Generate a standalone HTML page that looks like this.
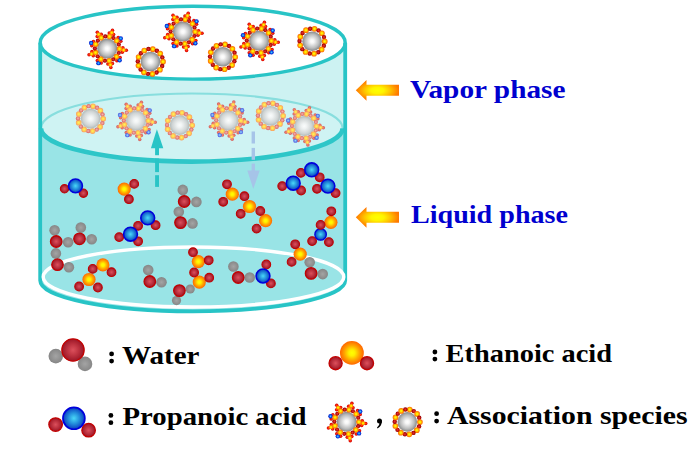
<!DOCTYPE html>
<html><head><meta charset="utf-8"><style>
html,body{margin:0;padding:0;background:#fff;}
body{width:699px;height:453px;overflow:hidden;font-family:"Liberation Serif",serif;}
svg{display:block;}
</style></head><body>
<svg width="699" height="453" viewBox="0 0 699 453"><defs><radialGradient id="gGray" cx="50%" cy="50%" r="50%"><stop offset="0" stop-color="#ffffff"/><stop offset="0.2" stop-color="#f6f6f6"/><stop offset="0.7" stop-color="#bbbcbc"/><stop offset="1" stop-color="#858888"/></radialGradient><radialGradient id="gO" cx="50%" cy="50%" r="50%"><stop offset="0" stop-color="#ffff00"/><stop offset="0.25" stop-color="#fff000"/><stop offset="0.62" stop-color="#ffa600"/><stop offset="1" stop-color="#ff6600"/></radialGradient><radialGradient id="gR" cx="50%" cy="50%" r="50%"><stop offset="0" stop-color="#dc505c"/><stop offset="0.55" stop-color="#bb303e"/><stop offset="0.9" stop-color="#a21c2c"/><stop offset="1" stop-color="#a21c2c"/></radialGradient><radialGradient id="gRs" cx="50%" cy="50%" r="50%"><stop offset="0" stop-color="#e83838"/><stop offset="0.55" stop-color="#c01010"/><stop offset="1" stop-color="#8c0000"/></radialGradient><radialGradient id="gRr" cx="50%" cy="50%" r="50%"><stop offset="0" stop-color="#ff4020"/><stop offset="0.6" stop-color="#f01000"/><stop offset="1" stop-color="#c00000"/></radialGradient><radialGradient id="gRrF" cx="50%" cy="50%" r="50%"><stop offset="0" stop-color="#ed8875"/><stop offset="0.6" stop-color="#e46c62"/><stop offset="1" stop-color="#c86262"/></radialGradient><radialGradient id="gB" cx="50%" cy="50%" r="50%"><stop offset="0" stop-color="#4ad8f8"/><stop offset="0.5" stop-color="#2490dc"/><stop offset="0.88" stop-color="#1050c8"/><stop offset="1" stop-color="#0c40c0"/></radialGradient><radialGradient id="gBs" cx="50%" cy="50%" r="50%"><stop offset="0" stop-color="#50e0ff"/><stop offset="0.45" stop-color="#1070f0"/><stop offset="1" stop-color="#0010c8"/></radialGradient><radialGradient id="gW" cx="50%" cy="50%" r="50%"><stop offset="0" stop-color="#a4a4a4"/><stop offset="1" stop-color="#868686"/></radialGradient><radialGradient id="gArr" cx="50%" cy="50%" r="50%"><stop offset="0" stop-color="#ffff00"/><stop offset="0.3" stop-color="#fff400"/><stop offset="0.6" stop-color="#ffc400"/><stop offset="0.85" stop-color="#ff9400"/><stop offset="1" stop-color="#ff7800"/></radialGradient><radialGradient id="gOF" cx="50%" cy="50%" r="50%"><stop offset="0" stop-color="#fff060"/><stop offset="0.35" stop-color="#ffe050"/><stop offset="0.7" stop-color="#ffbc5a"/><stop offset="1" stop-color="#f8a060"/></radialGradient><radialGradient id="gRsF" cx="50%" cy="50%" r="50%"><stop offset="0" stop-color="#f4b4ac"/><stop offset="0.5" stop-color="#e88c88"/><stop offset="1" stop-color="#d86464"/></radialGradient><radialGradient id="gBsF" cx="50%" cy="50%" r="50%"><stop offset="0" stop-color="#98ecf8"/><stop offset="0.5" stop-color="#6a90f0"/><stop offset="1" stop-color="#4a58e0"/></radialGradient><radialGradient id="gGrayF" cx="50%" cy="50%" r="50%"><stop offset="0" stop-color="#fafcfc"/><stop offset="0.25" stop-color="#f0f3f3"/><stop offset="0.75" stop-color="#cfd4d4"/><stop offset="1" stop-color="#b2baba"/></radialGradient>
<symbol id="ring" overflow="visible"><circle r="9.8" fill="url(#gGray)"/><circle cx="2.40" cy="-12.37" r="2.85" fill="url(#gO)"/><circle cx="6.49" cy="-10.80" r="2.2" fill="url(#gRs)"/><circle cx="9.79" cy="-7.93" r="2.85" fill="url(#gO)"/><circle cx="11.91" cy="-4.10" r="2.2" fill="url(#gRs)"/><circle cx="12.60" cy="0.22" r="2.85" fill="url(#gO)"/><circle cx="11.76" cy="4.52" r="2.2" fill="url(#gRs)"/><circle cx="9.51" cy="8.27" r="2.85" fill="url(#gO)"/><circle cx="6.11" cy="11.02" r="2.2" fill="url(#gRs)"/><circle cx="1.97" cy="12.44" r="2.85" fill="url(#gO)"/><circle cx="-2.40" cy="12.37" r="2.2" fill="url(#gRs)"/><circle cx="-6.49" cy="10.80" r="2.85" fill="url(#gO)"/><circle cx="-9.79" cy="7.93" r="2.2" fill="url(#gRs)"/><circle cx="-11.91" cy="4.10" r="2.85" fill="url(#gO)"/><circle cx="-12.60" cy="-0.22" r="2.2" fill="url(#gRs)"/><circle cx="-11.76" cy="-4.52" r="2.85" fill="url(#gO)"/><circle cx="-9.51" cy="-8.27" r="2.2" fill="url(#gRs)"/><circle cx="-6.11" cy="-11.02" r="2.85" fill="url(#gO)"/><circle cx="-1.97" cy="-12.44" r="2.2" fill="url(#gRs)"/></symbol>
<symbol id="star" overflow="visible"><circle cx="2.05" cy="-15.57" r="1.75" fill="url(#gRr)"/><circle cx="6.43" cy="-14.10" r="1.75" fill="url(#gRr)"/><circle cx="5.29" cy="-18.46" r="1.75" fill="url(#gRr)"/><circle cx="4.55" cy="-15.86" r="2.15" fill="url(#gO)"/><circle cx="11.00" cy="-11.20" r="1.75" fill="url(#gRr)"/><circle cx="13.62" cy="-7.40" r="1.75" fill="url(#gRr)"/><circle cx="13.58" cy="-10.23" r="2.2" fill="url(#gBs)"/><circle cx="15.67" cy="-0.96" r="1.75" fill="url(#gRr)"/><circle cx="15.07" cy="3.62" r="1.75" fill="url(#gRr)"/><circle cx="19.13" cy="1.67" r="1.75" fill="url(#gRr)"/><circle cx="16.44" cy="1.44" r="2.15" fill="url(#gO)"/><circle cx="12.94" cy="8.89" r="1.75" fill="url(#gRr)"/><circle cx="9.65" cy="12.13" r="1.75" fill="url(#gRr)"/><circle cx="12.43" cy="11.59" r="2.2" fill="url(#gBs)"/><circle cx="5.24" cy="14.80" r="1.75" fill="url(#gRr)"/><circle cx="0.68" cy="15.49" r="1.75" fill="url(#gRr)"/><circle cx="3.66" cy="18.85" r="1.75" fill="url(#gRr)"/><circle cx="3.15" cy="16.20" r="2.15" fill="url(#gO)"/><circle cx="-6.01" cy="14.50" r="1.75" fill="url(#gRr)"/><circle cx="-9.86" cy="11.96" r="1.75" fill="url(#gRr)"/><circle cx="-8.76" cy="14.57" r="2.2" fill="url(#gBs)"/><circle cx="-13.93" cy="7.25" r="1.75" fill="url(#gRr)"/><circle cx="-15.24" cy="2.82" r="1.75" fill="url(#gRr)"/><circle cx="-18.15" cy="6.25" r="1.75" fill="url(#gRr)"/><circle cx="-15.60" cy="5.37" r="2.15" fill="url(#gO)"/><circle cx="-15.44" cy="-2.86" r="1.75" fill="url(#gRr)"/><circle cx="-13.75" cy="-7.16" r="1.75" fill="url(#gRr)"/><circle cx="-16.07" cy="-5.53" r="2.2" fill="url(#gBs)"/><circle cx="-9.99" cy="-12.11" r="1.75" fill="url(#gRr)"/><circle cx="-5.93" cy="-14.32" r="1.75" fill="url(#gRr)"/><circle cx="-9.89" cy="-16.46" r="1.75" fill="url(#gRr)"/><circle cx="-8.50" cy="-14.14" r="2.15" fill="url(#gO)"/><circle r="10" fill="url(#gGray)"/><circle cx="2.35" cy="-12.07" r="2.8" fill="url(#gO)"/><circle cx="6.33" cy="-10.54" r="2.1" fill="url(#gRs)"/><circle cx="9.56" cy="-7.74" r="2.8" fill="url(#gO)"/><circle cx="11.63" cy="-4.00" r="2.1" fill="url(#gRs)"/><circle cx="12.30" cy="0.21" r="2.8" fill="url(#gO)"/><circle cx="11.48" cy="4.41" r="2.1" fill="url(#gRs)"/><circle cx="9.28" cy="8.07" r="2.8" fill="url(#gO)"/><circle cx="5.96" cy="10.76" r="2.1" fill="url(#gRs)"/><circle cx="1.92" cy="12.15" r="2.8" fill="url(#gO)"/><circle cx="-2.35" cy="12.07" r="2.1" fill="url(#gRs)"/><circle cx="-6.33" cy="10.54" r="2.8" fill="url(#gO)"/><circle cx="-9.56" cy="7.74" r="2.1" fill="url(#gRs)"/><circle cx="-11.63" cy="4.00" r="2.8" fill="url(#gO)"/><circle cx="-12.30" cy="-0.21" r="2.1" fill="url(#gRs)"/><circle cx="-11.48" cy="-4.41" r="2.8" fill="url(#gO)"/><circle cx="-9.28" cy="-8.07" r="2.1" fill="url(#gRs)"/><circle cx="-5.96" cy="-10.76" r="2.8" fill="url(#gO)"/><circle cx="-1.92" cy="-12.15" r="2.1" fill="url(#gRs)"/></symbol>
<symbol id="ringF" overflow="visible"><circle r="9.8" fill="url(#gGrayF)"/><circle cx="2.40" cy="-12.37" r="2.85" fill="url(#gOF)"/><circle cx="6.49" cy="-10.80" r="2.2" fill="url(#gRsF)"/><circle cx="9.79" cy="-7.93" r="2.85" fill="url(#gOF)"/><circle cx="11.91" cy="-4.10" r="2.2" fill="url(#gRsF)"/><circle cx="12.60" cy="0.22" r="2.85" fill="url(#gOF)"/><circle cx="11.76" cy="4.52" r="2.2" fill="url(#gRsF)"/><circle cx="9.51" cy="8.27" r="2.85" fill="url(#gOF)"/><circle cx="6.11" cy="11.02" r="2.2" fill="url(#gRsF)"/><circle cx="1.97" cy="12.44" r="2.85" fill="url(#gOF)"/><circle cx="-2.40" cy="12.37" r="2.2" fill="url(#gRsF)"/><circle cx="-6.49" cy="10.80" r="2.85" fill="url(#gOF)"/><circle cx="-9.79" cy="7.93" r="2.2" fill="url(#gRsF)"/><circle cx="-11.91" cy="4.10" r="2.85" fill="url(#gOF)"/><circle cx="-12.60" cy="-0.22" r="2.2" fill="url(#gRsF)"/><circle cx="-11.76" cy="-4.52" r="2.85" fill="url(#gOF)"/><circle cx="-9.51" cy="-8.27" r="2.2" fill="url(#gRsF)"/><circle cx="-6.11" cy="-11.02" r="2.85" fill="url(#gOF)"/><circle cx="-1.97" cy="-12.44" r="2.2" fill="url(#gRsF)"/></symbol>
<symbol id="starF" overflow="visible"><circle cx="2.05" cy="-15.57" r="1.75" fill="url(#gRrF)"/><circle cx="6.43" cy="-14.10" r="1.75" fill="url(#gRrF)"/><circle cx="5.29" cy="-18.46" r="1.75" fill="url(#gRrF)"/><circle cx="4.55" cy="-15.86" r="2.15" fill="url(#gOF)"/><circle cx="11.00" cy="-11.20" r="1.75" fill="url(#gRrF)"/><circle cx="13.62" cy="-7.40" r="1.75" fill="url(#gRrF)"/><circle cx="13.58" cy="-10.23" r="2.2" fill="url(#gBsF)"/><circle cx="15.67" cy="-0.96" r="1.75" fill="url(#gRrF)"/><circle cx="15.07" cy="3.62" r="1.75" fill="url(#gRrF)"/><circle cx="19.13" cy="1.67" r="1.75" fill="url(#gRrF)"/><circle cx="16.44" cy="1.44" r="2.15" fill="url(#gOF)"/><circle cx="12.94" cy="8.89" r="1.75" fill="url(#gRrF)"/><circle cx="9.65" cy="12.13" r="1.75" fill="url(#gRrF)"/><circle cx="12.43" cy="11.59" r="2.2" fill="url(#gBsF)"/><circle cx="5.24" cy="14.80" r="1.75" fill="url(#gRrF)"/><circle cx="0.68" cy="15.49" r="1.75" fill="url(#gRrF)"/><circle cx="3.66" cy="18.85" r="1.75" fill="url(#gRrF)"/><circle cx="3.15" cy="16.20" r="2.15" fill="url(#gOF)"/><circle cx="-6.01" cy="14.50" r="1.75" fill="url(#gRrF)"/><circle cx="-9.86" cy="11.96" r="1.75" fill="url(#gRrF)"/><circle cx="-8.76" cy="14.57" r="2.2" fill="url(#gBsF)"/><circle cx="-13.93" cy="7.25" r="1.75" fill="url(#gRrF)"/><circle cx="-15.24" cy="2.82" r="1.75" fill="url(#gRrF)"/><circle cx="-18.15" cy="6.25" r="1.75" fill="url(#gRrF)"/><circle cx="-15.60" cy="5.37" r="2.15" fill="url(#gOF)"/><circle cx="-15.44" cy="-2.86" r="1.75" fill="url(#gRrF)"/><circle cx="-13.75" cy="-7.16" r="1.75" fill="url(#gRrF)"/><circle cx="-16.07" cy="-5.53" r="2.2" fill="url(#gBsF)"/><circle cx="-9.99" cy="-12.11" r="1.75" fill="url(#gRrF)"/><circle cx="-5.93" cy="-14.32" r="1.75" fill="url(#gRrF)"/><circle cx="-9.89" cy="-16.46" r="1.75" fill="url(#gRrF)"/><circle cx="-8.50" cy="-14.14" r="2.15" fill="url(#gOF)"/><circle r="10" fill="url(#gGrayF)"/><circle cx="2.35" cy="-12.07" r="2.8" fill="url(#gOF)"/><circle cx="6.33" cy="-10.54" r="2.1" fill="url(#gRsF)"/><circle cx="9.56" cy="-7.74" r="2.8" fill="url(#gOF)"/><circle cx="11.63" cy="-4.00" r="2.1" fill="url(#gRsF)"/><circle cx="12.30" cy="0.21" r="2.8" fill="url(#gOF)"/><circle cx="11.48" cy="4.41" r="2.1" fill="url(#gRsF)"/><circle cx="9.28" cy="8.07" r="2.8" fill="url(#gOF)"/><circle cx="5.96" cy="10.76" r="2.1" fill="url(#gRsF)"/><circle cx="1.92" cy="12.15" r="2.8" fill="url(#gOF)"/><circle cx="-2.35" cy="12.07" r="2.1" fill="url(#gRsF)"/><circle cx="-6.33" cy="10.54" r="2.8" fill="url(#gOF)"/><circle cx="-9.56" cy="7.74" r="2.1" fill="url(#gRsF)"/><circle cx="-11.63" cy="4.00" r="2.8" fill="url(#gOF)"/><circle cx="-12.30" cy="-0.21" r="2.1" fill="url(#gRsF)"/><circle cx="-11.48" cy="-4.41" r="2.8" fill="url(#gOF)"/><circle cx="-9.28" cy="-8.07" r="2.1" fill="url(#gRsF)"/><circle cx="-5.96" cy="-10.76" r="2.8" fill="url(#gOF)"/><circle cx="-1.92" cy="-12.15" r="2.1" fill="url(#gRsF)"/></symbol>
</defs><rect x="40.19999999999999" y="42.7" width="305.0" height="85.49999999999999" fill="#cdf2f2"/><path d="M40.19999999999999,128.2 L345.2,128.2 L345.2,280.5 A152.5,30.8 0 0 1 40.19999999999999,280.5 Z" fill="#99e4e6"/><path d="M41.0,128.2 A150.8,34.8 0 0 1 342.6,128.2 A150.8,33.4 0 0 1 41.0,128.2 Z" fill="#cff3f3"/><path d="M41.0,128.2 A150.8,34.8 0 0 1 342.6,128.2" fill="none" stroke="#88dede" stroke-width="2"/><path d="M41.0,128.2 A150.8,33.4 0 0 0 342.6,128.2" fill="none" stroke="#2ec6c8" stroke-width="4.6"/><ellipse cx="192.7" cy="42.7" rx="152.5" ry="36.4" fill="#ffffff" stroke="#28c4c6" stroke-width="3.4"/><path d="M40.19999999999999,42.7 L40.19999999999999,280.5 A152.5,30.8 0 0 0 345.2,280.5 L345.2,42.7" fill="none" stroke="#28c4c6" stroke-width="3.8"/><ellipse cx="193.5" cy="277" rx="150.3" ry="30" fill="none" stroke="#ffffff" stroke-width="3.4"/><use href="#ringF" x="90.6" y="118.6"/><use href="#starF" x="136.1" y="120.6"/><use href="#ringF" x="179.6" y="125.1"/><use href="#starF" x="228.5" y="120.5"/><use href="#ringF" x="270.5" y="115.7"/><use href="#starF" x="304.2" y="126.1"/><use href="#star" x="107.2" y="48.6"/><use href="#ring" x="150.4" y="61.5"/><use href="#star" x="182.9" y="31.6"/><use href="#ring" x="222.6" y="56.8"/><use href="#star" x="259.1" y="40.7"/><use href="#ring" x="312.1" y="41.2"/><path d="M150.9,148.2 L156.9,129.3 L163.3,148.2 Z" fill="#28c4c6"/><rect x="155.1" y="148" width="3.9" height="7.199999999999989" fill="#28c4c6"/><rect x="155.1" y="158.5" width="3.9" height="13.599999999999994" fill="#28c4c6"/><rect x="155.1" y="175.2" width="3.9" height="11.700000000000017" fill="#28c4c6"/><rect x="251.6" y="131.5" width="3.4" height="12.0" fill="#a6c4e8"/><rect x="251.6" y="147.9" width="3.4" height="11.900000000000006" fill="#a6c4e8"/><rect x="251.6" y="163.6" width="3.4" height="7.400000000000006" fill="#a6c4e8"/><path d="M247.3,170.6 L259.7,170.6 L253.3,189.1 Z" fill="#a6c4e8"/><circle cx="64.50" cy="188.80" r="4.15" fill="url(#gR)" stroke="#c20202" stroke-width="1.10"/><circle cx="83.40" cy="193.20" r="4.15" fill="url(#gR)" stroke="#c20202" stroke-width="1.10"/><circle cx="75.50" cy="185.90" r="6.93" fill="url(#gB)" stroke="#0000dc" stroke-width="1.54"/><circle cx="138.10" cy="225.80" r="4.35" fill="url(#gR)" stroke="#c20202" stroke-width="1.10"/><circle cx="155.60" cy="225.20" r="4.35" fill="url(#gR)" stroke="#c20202" stroke-width="1.10"/><circle cx="147.70" cy="217.90" r="6.93" fill="url(#gB)" stroke="#0000dc" stroke-width="1.54"/><circle cx="119.20" cy="237.10" r="4.35" fill="url(#gR)" stroke="#c20202" stroke-width="1.10"/><circle cx="138.10" cy="241.30" r="4.35" fill="url(#gR)" stroke="#c20202" stroke-width="1.10"/><circle cx="130.50" cy="234.20" r="6.93" fill="url(#gB)" stroke="#0000dc" stroke-width="1.54"/><circle cx="300.90" cy="172.90" r="4.35" fill="url(#gR)" stroke="#c20202" stroke-width="1.10"/><circle cx="319.70" cy="177.30" r="4.35" fill="url(#gR)" stroke="#c20202" stroke-width="1.10"/><circle cx="311.70" cy="169.80" r="6.93" fill="url(#gB)" stroke="#0000dc" stroke-width="1.54"/><circle cx="282.20" cy="186.10" r="4.35" fill="url(#gR)" stroke="#c20202" stroke-width="1.10"/><circle cx="301.10" cy="190.50" r="4.35" fill="url(#gR)" stroke="#c20202" stroke-width="1.10"/><circle cx="293.20" cy="183.20" r="6.93" fill="url(#gB)" stroke="#0000dc" stroke-width="1.54"/><circle cx="317.00" cy="188.80" r="4.35" fill="url(#gR)" stroke="#c20202" stroke-width="1.10"/><circle cx="335.60" cy="193.10" r="4.35" fill="url(#gR)" stroke="#c20202" stroke-width="1.10"/><circle cx="327.90" cy="186.10" r="6.93" fill="url(#gB)" stroke="#0000dc" stroke-width="1.54"/><circle cx="312.10" cy="241.10" r="4.35" fill="url(#gR)" stroke="#c20202" stroke-width="1.10"/><circle cx="328.90" cy="242.10" r="4.35" fill="url(#gR)" stroke="#c20202" stroke-width="1.10"/><circle cx="320.60" cy="234.40" r="5.76" fill="url(#gB)" stroke="#0000dc" stroke-width="1.28"/><circle cx="266.30" cy="264.50" r="4.35" fill="url(#gR)" stroke="#c20202" stroke-width="1.10"/><circle cx="270.90" cy="283.40" r="4.35" fill="url(#gR)" stroke="#c20202" stroke-width="1.10"/><circle cx="263.00" cy="276.00" r="6.93" fill="url(#gB)" stroke="#0000dc" stroke-width="1.54"/><circle cx="124.20" cy="189.10" r="6.60" fill="url(#gO)"/><circle cx="134.20" cy="183.90" r="4.35" fill="url(#gR)" stroke="#c20202" stroke-width="1.10"/><circle cx="128.90" cy="199.20" r="4.35" fill="url(#gR)" stroke="#c20202" stroke-width="1.10"/><circle cx="232.30" cy="194.20" r="6.60" fill="url(#gO)"/><circle cx="227.00" cy="184.30" r="4.35" fill="url(#gR)" stroke="#c20202" stroke-width="1.10"/><circle cx="223.20" cy="201.80" r="4.35" fill="url(#gR)" stroke="#c20202" stroke-width="1.10"/><circle cx="249.50" cy="206.50" r="6.60" fill="url(#gO)"/><circle cx="244.40" cy="196.20" r="4.35" fill="url(#gR)" stroke="#c20202" stroke-width="1.10"/><circle cx="240.70" cy="213.80" r="4.35" fill="url(#gR)" stroke="#c20202" stroke-width="1.10"/><circle cx="265.60" cy="220.70" r="6.60" fill="url(#gO)"/><circle cx="260.30" cy="211.00" r="4.35" fill="url(#gR)" stroke="#c20202" stroke-width="1.10"/><circle cx="256.60" cy="228.60" r="4.35" fill="url(#gR)" stroke="#c20202" stroke-width="1.10"/><circle cx="330.90" cy="222.30" r="6.60" fill="url(#gO)"/><circle cx="331.30" cy="211.30" r="4.35" fill="url(#gR)" stroke="#c20202" stroke-width="1.10"/><circle cx="320.60" cy="224.90" r="4.35" fill="url(#gR)" stroke="#c20202" stroke-width="1.10"/><circle cx="300.20" cy="254.20" r="6.60" fill="url(#gO)"/><circle cx="295.20" cy="244.30" r="4.35" fill="url(#gR)" stroke="#c20202" stroke-width="1.10"/><circle cx="291.60" cy="261.90" r="4.35" fill="url(#gR)" stroke="#c20202" stroke-width="1.10"/><circle cx="198.30" cy="261.60" r="6.60" fill="url(#gO)"/><circle cx="193.00" cy="252.20" r="4.35" fill="url(#gR)" stroke="#c20202" stroke-width="1.10"/><circle cx="208.70" cy="260.30" r="4.35" fill="url(#gR)" stroke="#c20202" stroke-width="1.10"/><circle cx="199.30" cy="282.10" r="6.60" fill="url(#gO)"/><circle cx="194.10" cy="272.50" r="4.35" fill="url(#gR)" stroke="#c20202" stroke-width="1.10"/><circle cx="209.20" cy="277.70" r="4.35" fill="url(#gR)" stroke="#c20202" stroke-width="1.10"/><circle cx="89.00" cy="279.50" r="6.60" fill="url(#gO)"/><circle cx="79.10" cy="286.50" r="4.35" fill="url(#gR)" stroke="#c20202" stroke-width="1.10"/><circle cx="97.90" cy="287.50" r="4.35" fill="url(#gR)" stroke="#c20202" stroke-width="1.10"/><circle cx="102.90" cy="264.90" r="6.60" fill="url(#gO)"/><circle cx="92.70" cy="268.90" r="4.35" fill="url(#gR)" stroke="#c20202" stroke-width="1.10"/><circle cx="111.50" cy="272.20" r="4.35" fill="url(#gR)" stroke="#c20202" stroke-width="1.10"/><circle cx="54.60" cy="230.20" r="5.30" fill="url(#gW)"/><circle cx="68.10" cy="242.20" r="5.30" fill="url(#gW)"/><circle cx="56.20" cy="241.50" r="5.76" fill="url(#gR)" stroke="#c20202" stroke-width="1.28"/><circle cx="80.80" cy="227.60" r="5.30" fill="url(#gW)"/><circle cx="91.70" cy="239.20" r="5.30" fill="url(#gW)"/><circle cx="79.50" cy="238.80" r="5.76" fill="url(#gR)" stroke="#c20202" stroke-width="1.28"/><circle cx="55.90" cy="253.40" r="5.30" fill="url(#gW)"/><circle cx="68.90" cy="267.30" r="5.30" fill="url(#gW)"/><circle cx="57.50" cy="264.70" r="5.76" fill="url(#gR)" stroke="#c20202" stroke-width="1.28"/><circle cx="182.80" cy="189.90" r="5.30" fill="url(#gW)"/><circle cx="196.40" cy="201.90" r="5.30" fill="url(#gW)"/><circle cx="184.20" cy="201.50" r="5.76" fill="url(#gR)" stroke="#c20202" stroke-width="1.28"/><circle cx="178.80" cy="211.80" r="5.30" fill="url(#gW)"/><circle cx="192.50" cy="223.40" r="5.30" fill="url(#gW)"/><circle cx="180.50" cy="222.60" r="5.76" fill="url(#gR)" stroke="#c20202" stroke-width="1.28"/><circle cx="309.70" cy="262.20" r="5.30" fill="url(#gW)"/><circle cx="322.70" cy="274.10" r="5.30" fill="url(#gW)"/><circle cx="311.10" cy="273.40" r="5.76" fill="url(#gR)" stroke="#c20202" stroke-width="1.28"/><circle cx="233.40" cy="266.50" r="5.30" fill="url(#gW)"/><circle cx="249.70" cy="277.50" r="5.30" fill="url(#gW)"/><circle cx="238.20" cy="277.50" r="5.76" fill="url(#gR)" stroke="#c20202" stroke-width="1.28"/><circle cx="148.20" cy="270.00" r="5.30" fill="url(#gW)"/><circle cx="161.50" cy="282.20" r="5.30" fill="url(#gW)"/><circle cx="149.80" cy="281.50" r="5.76" fill="url(#gR)" stroke="#c20202" stroke-width="1.28"/><circle cx="190.20" cy="289.00" r="4.60" fill="url(#gW)"/><circle cx="176.50" cy="300.60" r="4.60" fill="url(#gW)"/><circle cx="179.40" cy="290.60" r="5.76" fill="url(#gR)" stroke="#c20202" stroke-width="1.28"/><path d="M355.8,90.2 L366.5,80.0 L366.5,84.8 L399,84.8 L399,95.8 L366.5,95.8 L366.5,100.8 Z" fill="url(#gArr)"/><path d="M355.8,217.2 L366.5,207.0 L366.5,211.79999999999998 L399,211.79999999999998 L399,222.79999999999998 L366.5,222.79999999999998 L366.5,227.79999999999998 Z" fill="url(#gArr)"/><text x="410" y="97.6" font-family="Liberation Serif" font-weight="bold" font-size="25.8" fill="#0000cf" textLength="155.5" lengthAdjust="spacingAndGlyphs">Vapor phase</text><text x="411" y="222.8" font-family="Liberation Serif" font-weight="bold" font-size="25.8" fill="#0000cf" textLength="157" lengthAdjust="spacingAndGlyphs">Liquid phase</text><circle cx="55.80" cy="356.10" r="7.30" fill="url(#gW)"/><circle cx="85.00" cy="363.90" r="7.30" fill="url(#gW)"/><circle cx="73.00" cy="350.00" r="11.15" fill="url(#gR)" stroke="#c20202" stroke-width="1.30"/><circle cx="55.60" cy="424.60" r="6.75" fill="url(#gR)" stroke="#c20202" stroke-width="1.30"/><circle cx="88.60" cy="430.20" r="6.75" fill="url(#gR)" stroke="#c20202" stroke-width="1.30"/><circle cx="73.90" cy="418.30" r="10.95" fill="url(#gB)" stroke="#0000dc" stroke-width="1.70"/><circle cx="351.90" cy="352.90" r="11.90" fill="url(#gO)"/><circle cx="335.60" cy="363.20" r="6.55" fill="url(#gR)" stroke="#c20202" stroke-width="1.30"/><circle cx="367.00" cy="363.20" r="6.55" fill="url(#gR)" stroke="#c20202" stroke-width="1.30"/><use href="#star" x="346.6" y="421.8"/><use href="#ring" x="407.3" y="421.9"/><g fill="#000"><circle cx="111.6" cy="353.9" r="2.4"/><circle cx="111.6" cy="361.1" r="2.4"/></g><text x="122" y="363.8" font-family="Liberation Serif" font-weight="bold" font-size="25.8" fill="#000" textLength="77.5" lengthAdjust="spacingAndGlyphs">Water</text><g fill="#000"><circle cx="110.9" cy="415.4" r="2.4"/><circle cx="110.9" cy="422.7" r="2.4"/></g><text x="122.5" y="425" font-family="Liberation Serif" font-weight="bold" font-size="25.8" fill="#000" textLength="184" lengthAdjust="spacingAndGlyphs">Propanoic acid</text><g fill="#000"><circle cx="434.9" cy="352.0" r="2.4"/><circle cx="434.9" cy="359.1" r="2.4"/></g><text x="445.5" y="362.2" font-family="Liberation Serif" font-weight="bold" font-size="25.8" fill="#000" textLength="166.5" lengthAdjust="spacingAndGlyphs">Ethanoic acid</text><g fill="#000"><circle cx="379.5" cy="421" r="2.5"/><path d="M381.8,421.3 Q382.2,425.8 377.5,428.4 L377.0,427.6 Q379.9,425.2 379.5,422.6 Z"/></g><g fill="#000"><circle cx="436.6" cy="413.7" r="2.4"/><circle cx="436.6" cy="421.1" r="2.4"/></g><text x="447" y="423.8" font-family="Liberation Serif" font-weight="bold" font-size="25.8" fill="#000" textLength="240.5" lengthAdjust="spacingAndGlyphs">Association species</text></svg>
</body></html>
